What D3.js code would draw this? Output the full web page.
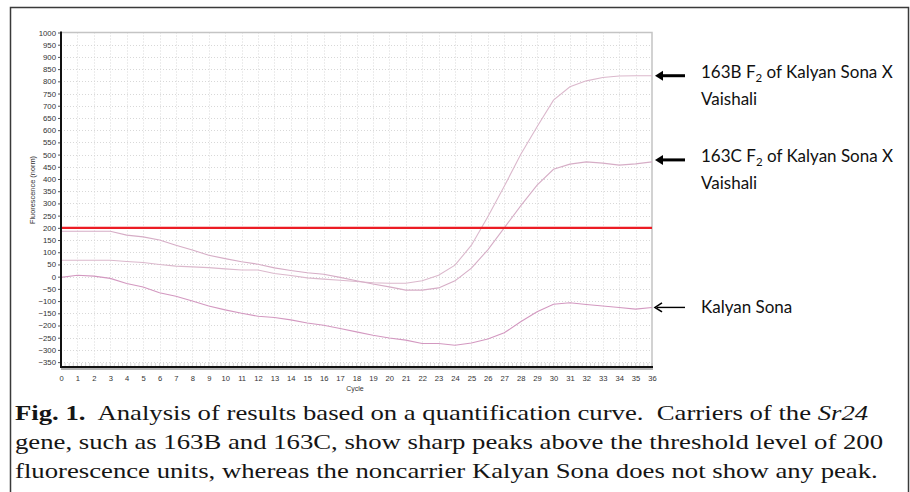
<!DOCTYPE html>
<html>
<head>
<meta charset="utf-8">
<script src="https://cdn.jsdelivr.net/npm/d3@7"></script>
<style>
  body { margin: 0; background: #fff; }
  svg { display: block; }
</style>
</head>
<body>
<svg id="SVGcanvas" width="910" height="492"></svg>
<script>
// data
var cycles = d3.range(0, 37);
var yTicks = d3.range(-350, 1001, 50);
var seriesNames = ["163B", "163C", "Kalyan Sona"];
var values163B = [67, 67, 67, 67, 62, 58, 50, 43, 40, 37, 32, 27, 27, 13, 5, -5, -10, -15, -20, -25, -27, -27, -17, 6, 47, 129, 245, 370, 500, 614, 723, 778, 802, 816, 822, 823, 823];
var values163C = [186, 186, 186, 186, 170, 163, 150, 129, 109, 88, 74, 61, 51, 36, 25, 16, 10, -3, -17, -30, -42, -55, -55, -46, -17, 35, 110, 200, 290, 375, 440, 461, 470, 465, 457, 462, 470];
var valuesKalyan = [-3, 6, 2, -7, -28, -42, -66, -80, -100, -120, -136, -150, -162, -167, -177, -190, -199, -212, -226, -240, -251, -260, -274, -274, -281, -272, -255, -230, -185, -144, -113, -107, -114, -120, -126, -133, -126];
var threshold = 200;
var labelLines = [
    ["163B F|2| of Kalyan Sona X", "Vaishali"],
    ["163C F|2| of Kalyan Sona X", "Vaishali"],
    ["Kalyan Sona"]
];

var Chart = {};

Chart.svg = d3.select("#SVGcanvas");
Chart.x = d3.scaleLinear().domain([0, 36]).range([61, 652]);
Chart.y = d3.scaleLinear().domain([-370, 1000]).range([367, 32.5]);

Chart.drawFrame = function() {
    Chart.svg.append("rect")
        .attr("x", 10.5).attr("y", 7.5)
        .attr("width", 898).attr("height", 500)
        .style("fill", "none")
        .style("stroke", "#3a3a3a")
        .style("stroke-width", 1.5);
};

Chart.drawGrid = function() {
    var x = Chart.x, y = Chart.y;
    var g = Chart.svg.append("g").attr("class", "grid");
    g.selectAll("line.v").data(cycles.slice(1, -1)).enter().append("line")
        .attr("x1", function(d) { return Math.round(x(d)) + 0.5; })
        .attr("x2", function(d) { return Math.round(x(d)) + 0.5; })
        .attr("y1", y(1000)).attr("y2", y(-370))
        .style("stroke", "#d8d8d8").style("stroke-dasharray", "1,2");
    g.selectAll("line.h").data(yTicks.slice(0, -1)).enter().append("line")
        .attr("x1", x(0)).attr("x2", x(36))
        .attr("y1", function(d) { return Math.round(y(d)) + 0.5; })
        .attr("y2", function(d) { return Math.round(y(d)) + 0.5; })
        .style("stroke", "#d8d8d8").style("stroke-dasharray", "1,2");
    // top and right border of the plot
    g.append("path")
        .attr("d", "M" + x(0) + "," + y(1000) + "H" + x(36) + "V" + y(-370))
        .style("fill", "none").style("stroke", "#c4c4c4").style("stroke-width", 1.5);
    // minor ticks on the cycle axis
    g.selectAll("line.m").data(d3.range(0, 36.01, 0.25)).enter().append("line")
        .attr("x1", function(d) { return x(d); })
        .attr("x2", function(d) { return x(d); })
        .attr("y1", y(-370) - 4).attr("y2", y(-370) - 1)
        .style("stroke", "#bbb").style("stroke-width", 0.6);
};

Chart.drawAxes = function() {
    var x = Chart.x, y = Chart.y;
    var yAxis = d3.axisLeft(y).tickValues(yTicks).tickFormat(d3.format("d")).tickSize(3).tickPadding(2);
    var gy = Chart.svg.append("g").attr("transform", "translate(" + x(0) + ",0)").call(yAxis);
    gy.select(".domain").remove();
    gy.selectAll(".tick line").style("stroke", "#555");
    gy.selectAll("text").style("font-family", "'Liberation Sans', Arial, sans-serif")
        .style("font-size", "7.8px").style("fill", "#333");

    var xAxis = d3.axisBottom(x).tickValues(cycles).tickSize(0).tickPadding(9);
    var gx = Chart.svg.append("g").attr("transform", "translate(0," + y(-370) + ")").call(xAxis);
    gx.select(".domain").remove();
    gx.selectAll("text").style("font-family", "'Liberation Sans', Arial, sans-serif")
        .style("font-size", "7.6px").style("fill", "#333");

    // shadow + heavy axis lines
    Chart.svg.append("line")
        .attr("x1", x(0)).attr("x2", x(36) + 1)
        .attr("y1", y(-370) + 2).attr("y2", y(-370) + 2)
        .style("stroke", "#9a9a9a").style("stroke-width", 1.5);
    Chart.svg.append("line")
        .attr("x1", x(0) - 1).attr("x2", x(36) + 1)
        .attr("y1", y(-370)).attr("y2", y(-370))
        .style("stroke", "#111").style("stroke-width", 2.2);
    Chart.svg.append("line")
        .attr("x1", x(0)).attr("x2", x(0))
        .attr("y1", y(1000) - 1).attr("y2", y(-370))
        .style("stroke", "#111").style("stroke-width", 2);

    Chart.svg.append("text")
        .attr("x", 355).attr("y", 391)
        .attr("text-anchor", "middle")
        .style("font-family", "'Liberation Sans', Arial, sans-serif")
        .style("font-size", "7px").style("fill", "#333")
        .text("Cycle");
    Chart.svg.append("text")
        .attr("transform", "translate(35,190) rotate(-90)")
        .attr("text-anchor", "middle")
        .style("font-family", "'Liberation Sans', Arial, sans-serif")
        .style("font-size", "7.4px").style("fill", "#333")
        .text("Fluorescence (norm)");
};

Chart.drawCurves = function() {
    var x = Chart.x, y = Chart.y;
    var line = d3.line()
        .x(function(d, i) { return x(cycles[i]); })
        .y(function(d) { return y(d); });
    var all = [values163B, values163C, valuesKalyan];
    var colours = ["#dbb8cc", "#d6adc6", "#d398c0"];
    Chart.svg.append("g").selectAll("path").data(all).enter().append("path")
        .attr("d", line)
        .style("fill", "none")
        .style("stroke", function(d, i) { return colours[i]; })
        .style("stroke-width", 1.1);

    Chart.svg.append("line")
        .attr("x1", x(0)).attr("x2", x(36))
        .attr("y1", y(threshold)).attr("y2", y(threshold))
        .style("stroke", "#ec1c24").style("stroke-width", 2.4);
};

Chart.drawLabels = function() {
    var x = Chart.x, y = Chart.y;
    var ends = [values163B[36], values163C[36], valuesKalyan[36]];
    var heavy = [true, true, false];
    ends.forEach(function(v, i) {
        var ay = y(v) - (i == 1 ? 2 : 0);
        var g = Chart.svg.append("g");
        var x0 = x(36) + 3, x1 = x0 + 30;
        if (heavy[i]) {
            g.append("line").attr("x1", x0 + 6).attr("x2", x1).attr("y1", ay).attr("y2", ay)
                .style("stroke", "#000").style("stroke-width", 3);
            g.append("path")
                .attr("d", "M" + x0 + "," + ay + "l8,-5l0,10z")
                .style("fill", "#000");
        } else {
            g.append("line").attr("x1", x0 + 2).attr("x2", x1).attr("y1", ay).attr("y2", ay)
                .style("stroke", "#000").style("stroke-width", 1.4);
            g.append("path")
                .attr("d", "M" + (x0 + 7) + "," + (ay - 4.5) + "L" + x0 + "," + ay + "L" + (x0 + 7) + "," + (ay + 4.5))
                .style("fill", "none").style("stroke", "#000").style("stroke-width", 1.6);
        }
        labelLines[i].forEach(function(str, j) {
            var t = g.append("text")
                .attr("x", 701)
                .attr("y", ay + (heavy[i] ? 2.5 : 5.5) + j * 27)
                .style("font-family", "Lato, 'Open Sans', sans-serif")
                .style("font-size", "17px").style("fill", "#111");
            str.split("|").forEach(function(part, k) {
                var s = t.append("tspan").text(part);
                if (k == 1) s.attr("dy", 4).style("font-size", "11.5px");
                if (k == 2) s.attr("dy", -4);
            });
        });
    });
};

Chart.drawCaption = function() {
    var cap = Chart.svg.append("g")
        .style("font-family", "'Liberation Serif', 'Times New Roman', serif")
        .style("font-size", "22px").style("fill", "#151515");
    var l1 = cap.append("text").attr("y", 420);
    l1.append("tspan").style("font-weight", "bold").text("Fig. 1.");
    l1.append("tspan").text("\u00a0 Analysis of results based on a quantification curve.\u00a0 Carriers of the ");
    l1.append("tspan").style("font-style", "italic").text("Sr24");
    cap.append("text").attr("y", 449.5)
        .text("gene, such as 163B and 163C, show sharp peaks above the threshold level of 200");
    var l3 = cap.append("text").attr("y", 478.5)
        .text("fluorescence units, whereas the noncarrier Kalyan Sona does not show any peak.");
    // the printed caption is stretched sideways, so fit the last line to its width
    var sx = 863 / l3.node().getComputedTextLength();
    cap.attr("transform", "translate(15,0) scale(" + sx + ",1)");
};

Chart.drawFrame();
Chart.drawGrid();
Chart.drawCurves();
Chart.drawAxes();
Chart.drawLabels();
Chart.drawCaption();
</script>
</body>
</html>
